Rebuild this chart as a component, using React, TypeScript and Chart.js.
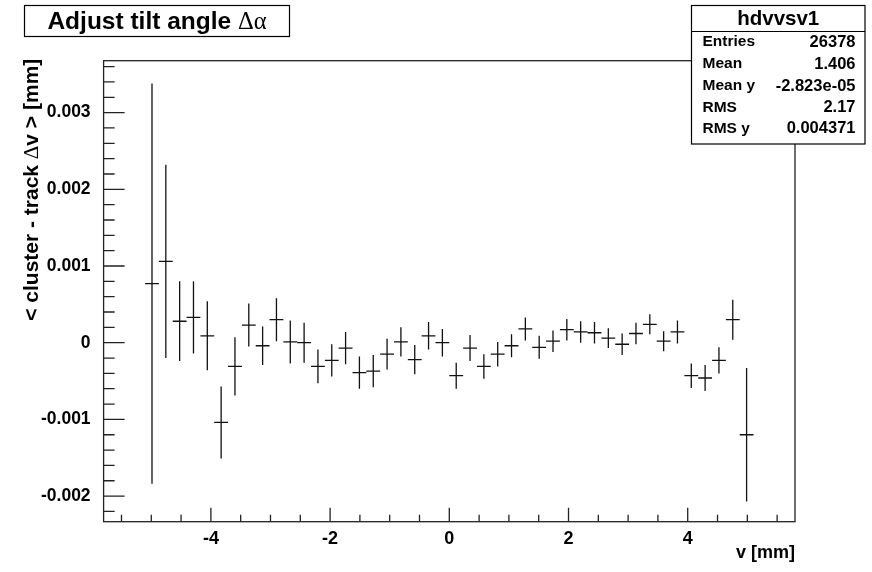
import React, { useEffect, useRef } from "react";
import { Chart, registerables } from "chart.js";

Chart.register(...registerables);

// ---- data ----
const binCenters = [
  -4.988, -4.756, -4.524, -4.292, -4.06, -3.828, -3.596, -3.364, -3.132, -2.9, -2.668,
  -2.436, -2.204, -1.972, -1.74, -1.508, -1.276, -1.044, -0.812, -0.58, -0.348, -0.116,
  0.116, 0.348, 0.58, 0.812, 1.044, 1.276, 1.508, 1.74, 1.972, 2.204, 2.436,
  2.668, 2.9, 3.132, 3.364, 3.596, 3.828, 4.06, 4.292, 4.524, 4.756, 4.988,
];
const meanValues = [
  0.00077, 0.00106, 0.00028, 0.00033, 0.00009, -0.00104, -0.00031, 0.00023, -0.00004, 0.0003, 0.00001,
  0.0, -0.00031, -0.00023, -0.00007, -0.00039, -0.00037, -0.00015, 0.00001, -0.00022, 0.00009, 0.0,
  -0.00043, -0.00007, -0.00031, -0.00015, -0.00004, 0.00018, -0.00006, 0.00002, 0.00017, 0.00014, 0.00013,
  0.00006, -0.00002, 0.00012, 0.00024, 0.00002, 0.00014, -0.00043, -0.00046, -0.00023, 0.0003, -0.0012,
];
const errors = [
  0.00261, 0.00126, 0.00052, 0.00047, 0.00045, 0.00047, 0.00038, 0.00028, 0.00025, 0.00028, 0.00028,
  0.00026, 0.00022, 0.00021, 0.00021, 0.00021, 0.00021, 0.0002, 0.00019, 0.00019, 0.00018, 0.00018,
  0.00017, 0.00017, 0.00016, 0.00016, 0.00015, 0.00015, 0.00015, 0.00014, 0.00014, 0.00014, 0.00014,
  0.00013, 0.00014, 0.00014, 0.00013, 0.00013, 0.00015, 0.00016, 0.00017, 0.00017, 0.00026, 0.00087,
];
const binWidth = 0.232;

const xTickValues = [-4, -2, 0, 2, 4];
const yTickValues = [-0.002, -0.001, 0, 0.001, 0.002, 0.003];
const xMinorStep = 0.5;
const yMinorStep = 0.0002;

const X_MIN = -5.8;
const X_MAX = 5.8;
const Y_MIN = -0.002334;
const Y_MAX = 0.003677;

const histName = "hdvvsv1";
const statLabels = ["Entries", "Mean", "Mean y", "RMS", "RMS y"];
const statValues = ["26378", "1.406", "-2.823e-05", "2.17", "0.004371"];

const titleText = "Adjust tilt angle ";
const titleGreek = "\u0394\u03b1";
const xTitle = "v [mm]";
const yTitleParts = ["< cluster - track ", "\u0394", "v > [mm]"];

const SANS = "'Liberation Sans', Arial, Helvetica, sans-serif";
const GREEK = "'Liberation Serif', 'DejaVu Serif', serif";

type Seg = [string, string];
function drawSegments(ctx: CanvasRenderingContext2D, segs: Seg[], x: number, y: number, align: "left" | "right" | "center") {
  let total = 0;
  const widths = segs.map(([t, f]) => {
    ctx.font = f;
    const w = ctx.measureText(t).width;
    total += w;
    return w;
  });
  let cx = align === "left" ? x : align === "right" ? x - total : x - total / 2;
  ctx.textAlign = "left";
  segs.forEach(([t, f], i) => {
    ctx.font = f;
    ctx.fillText(t, cx, y);
    cx += widths[i];
  });
}

const rootPlugin = {
  id: "rootStyle",
  beforeDraw(chart: any) {
    const ctx = chart.ctx as CanvasRenderingContext2D;
    ctx.save();
    ctx.fillStyle = "#ffffff";
    ctx.fillRect(0, 0, chart.width, chart.height);
    ctx.restore();
  },
  afterDatasetsDraw(chart: any) {
    const ctx = chart.ctx as CanvasRenderingContext2D;
    const xs = chart.scales.x;
    const ys = chart.scales.y;
    ctx.save();
    ctx.strokeStyle = "#111";
    ctx.lineWidth = 1.3;
    binCenters.forEach((c, i) => {
      const px = xs.getPixelForValue(c);
      const py = ys.getPixelForValue(meanValues[i]);
      const x0 = xs.getPixelForValue(c - binWidth / 2);
      const x1 = xs.getPixelForValue(c + binWidth / 2);
      const y0 = ys.getPixelForValue(meanValues[i] + errors[i]);
      const y1 = ys.getPixelForValue(meanValues[i] - errors[i]);
      ctx.beginPath();
      ctx.moveTo(x0, py);
      ctx.lineTo(x1, py);
      ctx.moveTo(px, y0);
      ctx.lineTo(px, y1);
      ctx.stroke();
    });
    ctx.restore();
  },
  afterDraw(chart: any) {
    const ctx = chart.ctx as CanvasRenderingContext2D;
    const { left, right, top, bottom } = chart.chartArea;
    const xs = chart.scales.x;
    const ys = chart.scales.y;
    ctx.save();
    ctx.strokeStyle = "#222";
    ctx.lineWidth = 1.3;
    // frame
    ctx.strokeRect(left, top, right - left, bottom - top);
    // x ticks
    ctx.beginPath();
    for (let v = -5.5; v <= X_MAX + 1e-9; v += xMinorStep) {
      const major = xTickValues.some((t) => Math.abs(t - v) < 1e-6);
      const px = xs.getPixelForValue(v);
      ctx.moveTo(px, bottom);
      ctx.lineTo(px, bottom - (major ? 14 : 7));
    }
    // y ticks
    for (let k = Math.ceil(Y_MIN / yMinorStep - 1e-6); k * yMinorStep <= Y_MAX + 1e-12; k++) {
      const v = k * yMinorStep;
      const major = yTickValues.some((t) => Math.abs(t - v) < 1e-9);
      const py = ys.getPixelForValue(v);
      ctx.moveTo(left, py);
      ctx.lineTo(left + (major ? 21 : 11), py);
    }
    ctx.stroke();

    ctx.fillStyle = "#000";
    ctx.textBaseline = "middle";
    // x title
    ctx.font = `bold 18px ${SANS}`;
    ctx.textAlign = "right";
    ctx.fillText(xTitle, right, 553);
    // y title (rotated)
    ctx.save();
    ctx.translate(32, top - 2);
    ctx.rotate(-Math.PI / 2);
    drawSegments(
      ctx,
      [
        [yTitleParts[0], `bold 21px ${SANS}`],
        [yTitleParts[1], `21px ${GREEK}`],
        [yTitleParts[2], `bold 21px ${SANS}`],
      ],
      0,
      0,
      "right"
    );
    ctx.restore();

    // title box
    ctx.fillStyle = "#fff";
    ctx.fillRect(24.5, 5.5, 265, 31);
    ctx.strokeStyle = "#000";
    ctx.lineWidth = 1.2;
    ctx.strokeRect(24.5, 5.5, 265, 31);
    ctx.fillStyle = "#000";
    ctx.textBaseline = "alphabetic";
    drawSegments(
      ctx,
      [
        [titleText, `bold 24.5px ${SANS}`],
        [titleGreek, `24.5px ${GREEK}`],
      ],
      157,
      28.5,
      "center"
    );

    // stats box
    const bx = 691.5, by = 5.5, bw = 173.5, bh = 138.5;
    ctx.fillStyle = "#fff";
    ctx.fillRect(bx, by, bw, bh);
    ctx.strokeRect(bx, by, bw, bh);
    ctx.beginPath();
    ctx.moveTo(bx, 31.5);
    ctx.lineTo(bx + bw, 31.5);
    ctx.stroke();
    ctx.fillStyle = "#000";
    ctx.textBaseline = "middle";
    ctx.font = `bold 20.5px ${SANS}`;
    ctx.textAlign = "center";
    ctx.fillText(histName, bx + bw / 2, 19);
    const rowY = [42, 64, 86, 107.5, 128.5];
    statLabels.forEach((lab, i) => {
      ctx.font = `bold 15.5px ${SANS}`;
      ctx.textAlign = "left";
      ctx.fillText(lab, 702.5, rowY[i]);
      ctx.font = `bold 16.5px ${SANS}`;
      ctx.textAlign = "right";
      ctx.fillText(statValues[i], 855.5, rowY[i]);
    });
    ctx.restore();
  },
};

export default function App() {
  const canvasRef = useRef<HTMLCanvasElement | null>(null);

  useEffect(() => {
    const canvas = canvasRef.current;
    if (!canvas) return;
    const chart = new Chart(canvas, {
      type: "scatter",
      data: {
        datasets: [
          {
            label: histName,
            data: binCenters.map((c, i) => ({ x: c, y: meanValues[i] })),
            pointRadius: 0,
            pointHoverRadius: 0,
            showLine: false,
          },
        ],
      },
      options: {
        responsive: false,
        animation: false,
        events: [],
        layout: { padding: { top: 60.7, right: 77, left: 0, bottom: 0 } },
        plugins: { legend: { display: false }, tooltip: { enabled: false }, title: { display: false } },
        scales: {
          x: {
            type: "linear",
            min: X_MIN,
            max: X_MAX,
            grid: { display: false, drawTicks: false },
            border: { display: false },
            afterBuildTicks: (scale: any) => {
              scale.ticks = xTickValues.map((v) => ({ value: v }));
            },
            afterFit: (scale: any) => {
              scale.height = 572 - 521.7;
            },
            ticks: {
              autoSkip: false,
              maxRotation: 0,
              padding: 7,
              color: "#000",
              font: { family: SANS, size: 18, weight: "bold" },
              callback: (v: any) => String(v),
            },
          },
          y: {
            type: "linear",
            min: Y_MIN,
            max: Y_MAX,
            grid: { display: false, drawTicks: false },
            border: { display: false },
            afterBuildTicks: (scale: any) => {
              scale.ticks = yTickValues.map((v) => ({ value: v }));
            },
            afterFit: (scale: any) => {
              scale.width = 103.6;
            },
            ticks: {
              autoSkip: false,
              padding: 13,
              color: "#000",
              font: { family: SANS, size: 17.5, weight: "bold" },
              callback: (v: any) => String(v),
            },
          },
        },
      },
      plugins: [rootPlugin],
    } as any);
    return () => chart.destroy();
  }, []);

  return (
    <div style={{ position: "fixed", left: 0, top: 0, width: 872, height: 572, background: "#fff" }}>
      <canvas ref={canvasRef} width={872} height={572} style={{ display: "block" }} />
    </div>
  );
}
